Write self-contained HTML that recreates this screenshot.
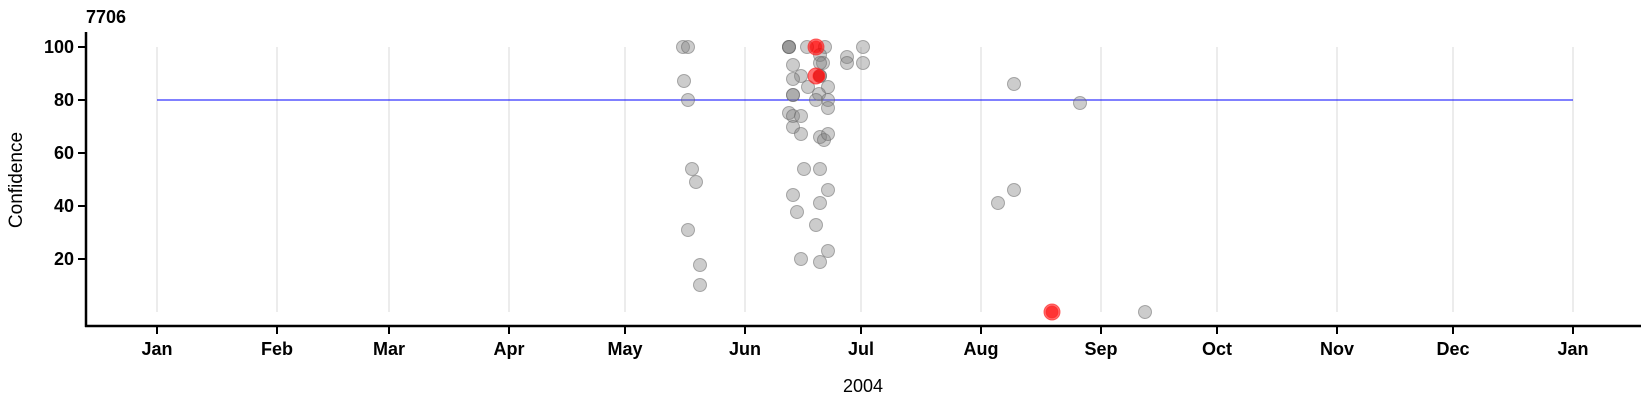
<!DOCTYPE html>
<html><head><style>body{margin:0;background:#fff}svg{display:block}text{font-family:"Liberation Sans",Arial,sans-serif}</style></head><body>
<svg width="1650" height="400" xmlns="http://www.w3.org/2000/svg">
<g stroke="#d9d9d9" stroke-width="1">
<line x1="157" y1="47" x2="157" y2="312"/><line x1="277" y1="47" x2="277" y2="312"/><line x1="389" y1="47" x2="389" y2="312"/><line x1="509" y1="47" x2="509" y2="312"/><line x1="625" y1="47" x2="625" y2="312"/><line x1="745" y1="47" x2="745" y2="312"/><line x1="861" y1="47" x2="861" y2="312"/><line x1="981" y1="47" x2="981" y2="312"/><line x1="1101" y1="47" x2="1101" y2="312"/><line x1="1217" y1="47" x2="1217" y2="312"/><line x1="1337" y1="47" x2="1337" y2="312"/><line x1="1453" y1="47" x2="1453" y2="312"/><line x1="1573" y1="47" x2="1573" y2="312"/>
</g>
<line x1="157" y1="100" x2="1573" y2="100" stroke="#0000ff" stroke-width="1"/>
<g fill="rgba(128,128,128,0.4)" stroke="rgba(100,100,100,0.5)" stroke-width="1">
<circle cx="683" cy="47" r="6.5"/><circle cx="688" cy="47" r="6.5"/><circle cx="684" cy="81" r="6.5"/><circle cx="688" cy="100" r="6.5"/><circle cx="692" cy="169" r="6.5"/><circle cx="696" cy="182" r="6.5"/><circle cx="688" cy="230" r="6.5"/><circle cx="700" cy="265" r="6.5"/><circle cx="700" cy="285" r="6.5"/>
<circle cx="789" cy="47" r="6.5"/><circle cx="789" cy="47" r="6.5"/><circle cx="789" cy="47" r="6.5"/><circle cx="807" cy="47" r="6.5"/><circle cx="825" cy="47" r="6.5"/><circle cx="820" cy="55" r="6.5"/><circle cx="823" cy="63" r="6.5"/><circle cx="820" cy="63" r="6.5"/><circle cx="847" cy="57" r="6.5"/><circle cx="847" cy="63" r="6.5"/><circle cx="793" cy="65" r="6.5"/>
<circle cx="801" cy="76" r="6.5"/><circle cx="793" cy="79" r="6.5"/><circle cx="820" cy="76" r="6.5"/><circle cx="820" cy="76" r="6.5"/><circle cx="808" cy="87" r="6.5"/><circle cx="828" cy="87" r="6.5"/>
<circle cx="793" cy="95" r="6.5"/><circle cx="793" cy="95" r="6.5"/><circle cx="819" cy="94" r="6.5"/><circle cx="816" cy="100" r="6.5"/><circle cx="828" cy="100" r="6.5"/><circle cx="828" cy="108" r="6.5"/>
<circle cx="789" cy="113" r="6.5"/><circle cx="793" cy="116" r="6.5"/><circle cx="801" cy="116" r="6.5"/><circle cx="793" cy="127" r="6.5"/><circle cx="801" cy="134" r="6.5"/><circle cx="820" cy="137" r="6.5"/><circle cx="824" cy="140" r="6.5"/><circle cx="828" cy="134" r="6.5"/>
<circle cx="804" cy="169" r="6.5"/><circle cx="820" cy="169" r="6.5"/><circle cx="828" cy="190" r="6.5"/><circle cx="793" cy="195" r="6.5"/><circle cx="820" cy="203" r="6.5"/><circle cx="797" cy="212" r="6.5"/><circle cx="816" cy="225" r="6.5"/><circle cx="828" cy="251" r="6.5"/><circle cx="801" cy="259" r="6.5"/><circle cx="820" cy="262" r="6.5"/>
<circle cx="863" cy="47" r="6.5"/><circle cx="863" cy="63" r="6.5"/>
<circle cx="1014" cy="84" r="6.5"/><circle cx="1080" cy="103" r="6.5"/><circle cx="1014" cy="190" r="6.5"/><circle cx="998" cy="203" r="6.5"/><circle cx="1145" cy="312" r="6.5"/>
</g>
<g fill="rgba(255,0,0,0.55)" stroke="rgba(255,40,40,0.7)" stroke-width="1">
<circle cx="816" cy="47" r="8"/><circle cx="816" cy="47" r="6"/><circle cx="816" cy="76" r="8"/><circle cx="819" cy="76" r="6"/><circle cx="1052" cy="312" r="8"/><circle cx="1052" cy="312" r="6"/>
</g>
<g stroke="#000" stroke-width="2.5" fill="none">
<line x1="86" y1="32" x2="86" y2="327"/><line x1="85" y1="326" x2="1641" y2="326"/>
</g>
<g stroke="#000" stroke-width="2">
<line x1="78" y1="47" x2="86" y2="47"/><line x1="78" y1="100" x2="86" y2="100"/><line x1="78" y1="153" x2="86" y2="153"/><line x1="78" y1="206" x2="86" y2="206"/><line x1="78" y1="259" x2="86" y2="259"/>
<line x1="157" y1="326" x2="157" y2="334"/><line x1="277" y1="326" x2="277" y2="334"/><line x1="389" y1="326" x2="389" y2="334"/><line x1="509" y1="326" x2="509" y2="334"/><line x1="625" y1="326" x2="625" y2="334"/><line x1="745" y1="326" x2="745" y2="334"/><line x1="861" y1="326" x2="861" y2="334"/><line x1="981" y1="326" x2="981" y2="334"/><line x1="1101" y1="326" x2="1101" y2="334"/><line x1="1217" y1="326" x2="1217" y2="334"/><line x1="1337" y1="326" x2="1337" y2="334"/><line x1="1453" y1="326" x2="1453" y2="334"/><line x1="1573" y1="326" x2="1573" y2="334"/>
</g>
<g font-size="18" font-weight="bold" text-anchor="end">
<text x="74" y="53">100</text><text x="74" y="106">80</text><text x="74" y="159">60</text><text x="74" y="212">40</text><text x="74" y="265">20</text>
</g>
<g font-size="18" font-weight="bold" text-anchor="middle">
<text x="157" y="355">Jan</text><text x="277" y="355">Feb</text><text x="389" y="355">Mar</text><text x="509" y="355">Apr</text><text x="625" y="355">May</text><text x="745" y="355">Jun</text><text x="861" y="355">Jul</text><text x="981" y="355">Aug</text><text x="1101" y="355">Sep</text><text x="1217" y="355">Oct</text><text x="1337" y="355">Nov</text><text x="1453" y="355">Dec</text><text x="1573" y="355">Jan</text>
</g>
<text x="863" y="392" font-size="18" text-anchor="middle">2004</text>
<text x="22" y="180" font-size="19" text-anchor="middle" transform="rotate(-90 22 180)">Confidence</text>
<text x="86" y="23" font-size="18" font-weight="bold">7706</text>
</svg>
</body></html>
